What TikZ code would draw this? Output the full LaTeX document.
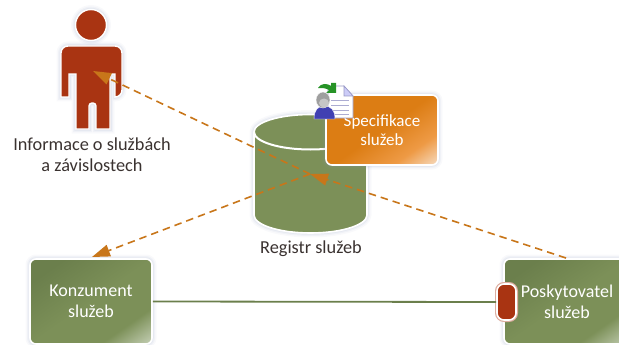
\documentclass[tikz,border=0pt]{standalone}
\usepackage{fontspec}
\setmainfont{Carlito}
\usetikzlibrary{arrows.meta}
\definecolor{dashc}{HTML}{C8761A}
\definecolor{greenA}{HTML}{6B7F4C}
\definecolor{greenB}{HTML}{7C9058}
\definecolor{greenL}{HTML}{C2CDB2}
\definecolor{redc}{HTML}{A93412}
\definecolor{orA}{HTML}{DC7D14}
\definecolor{orB}{HTML}{EE9A45}
\definecolor{orL}{HTML}{F6D9BC}
\definecolor{shc}{HTML}{8090B8}
\definecolor{txt}{HTML}{3A3230}
\pgfdeclareverticalshading{greenbox}{100bp}{color(0bp)=(greenL); color(16bp)=(greenL); color(30bp)=(greenB); color(50bp)=(greenB); color(75bp)=(greenA); color(100bp)=(greenA)}
\pgfdeclareverticalshading{orbox}{100bp}{color(0bp)=(orL); color(16bp)=(orL); color(30bp)=(orB); color(50bp)=(orA); color(100bp)=(orA)}
\tikzset{
  softshadow/.style={
    preaction={draw=shc,draw opacity=.05,line width=9pt},
    preaction={draw=shc,draw opacity=.07,line width=6pt},
    preaction={draw=shc,draw opacity=.09,line width=3.5pt}},
  boxbase/.style={rectangle,rounded corners=6pt,draw=white,line width=1.6pt,softshadow,
    text=white,align=center,font=\fontsize{18}{21}\selectfont,inner sep=0pt},
  greenrect/.style={boxbase,shade,shading=greenbox,shading angle=35,minimum width=122pt,minimum height=85pt},
  orangerect/.style={boxbase,shade,shading=orbox,shading angle=35,minimum width=112pt,minimum height=70pt,font=\fontsize{17}{18.5}\selectfont},
  lbl/.style={text=txt,align=center,font=\fontsize{18.3}{21}\selectfont,inner sep=0pt},
  dashline/.style={draw=dashc,line width=1.6pt,dash pattern=on 7.5pt off 5pt},
  headbig/.style={-{Triangle[length=18pt,width=12pt,fill=dashc]}},
  figure/.style={fill=redc,draw=white,line width=1.4pt,softshadow},
}
\begin{document}
\begin{tikzpicture}[x=1pt,y=-1pt]
\useasboundingbox (0,0) rectangle (619,345);
% person
\path[figure] (91,25) circle (15.5);
\path[figure,rounded corners=7pt] (61,97) -- (61,46) -- (122,46) -- (122,97)
  [sharp corners] -- (115,97) -- (115,74) -- (110,74) -- (110,129) -- (96,129)
  [rounded corners=3pt] -- (96,103) -- (89,103) [sharp corners] -- (89,129) -- (76,129)
  -- (76,74) -- (69,74) -- (69,97) -- cycle;
\node[coordinate] (person) at (93,71) {};
\node[lbl] (personlabel) at (92,155) {Informace o službách\\a závislostech};
% cylinder
\path[fill=greenB,draw=white,line width=1.6pt,softshadow]
  (254,132) -- (254,215) arc[start angle=180,end angle=0,x radius=56.5,y radius=18]
  -- (367,132) arc[start angle=0,end angle=-180,x radius=56.5,y radius=17.5] -- cycle;
\path[draw=white,line width=2pt] (254,132) arc[start angle=180,end angle=0,x radius=56.5,y radius=17.5];
\node[lbl] (registrylabel) at (311,249) {Registr služeb};
% spec box
\node[orangerect] (spec) at (382,130) {Specifikace\\služeb};
% icon: sheet
\path[fill=white,draw=black!55!blue!40,line width=.8pt] (328,86) -- (344,86) -- (353,96) -- (353,118) -- (328,118) -- cycle;
\path[fill=black!15!blue!20,draw=black!55!blue!40,line width=.6pt] (344,86) -- (344,96) -- (353,96) -- cycle;
\foreach \yy/\xx in {100/349,105/349,110/349,114/349}{\draw[blue!30!gray!50,line width=.8pt] (331,\yy) -- (\xx,\yy);}
% icon: green arrow
\path[fill=green!50!black!85] (318,88) .. controls (321,83) and (327,83) .. (331,86) -- (331,83) -- (336,83) -- (336,93) -- (326,93) -- (329,90) .. controls (326,88) and (322,88) .. (318,88) -- cycle;
% icon: user
\path[fill=blue!60!black!75,draw=white,line width=.4pt] (314,119) .. controls (314,110) and (318,106) .. (324,106) .. controls (331,106) and (335,110) .. (335,119) -- cycle;
\path[fill=gray!75,draw=white,line width=.4pt] (323,100) ellipse (7 and 8);
\path[fill=gray!45] (324,103) ellipse (5 and 4.5);
% boxes
\node[greenrect] (consumer) at (91,301.5) {Konzument\\služeb};
\node[greenrect,minimum width=126pt] (provider) at (567,301.5) {Poskytovatel\\služeb};
\node[rectangle,rounded corners=7pt,fill=redc,draw=white,line width=1.6pt,minimum width=19pt,minimum height=36pt,inner sep=0pt,
  preaction={draw=redc!40,line width=4pt}] (lolli) at (506.5,302) {};
\draw[draw=greenA,line width=1.8pt] (consumer.east) -- (lolli.west);
% dashed
\coordinate (hub) at (310,174);
\coordinate (provport) at (566,258);
\coordinate (constip) at (92,257);
\draw[dashline,headbig] (provport) -- (hub);
\draw[dashline,headbig] (hub) -- (person);
\draw[dashline,headbig] (hub) -- (constip);
\end{tikzpicture}
\end{document}
